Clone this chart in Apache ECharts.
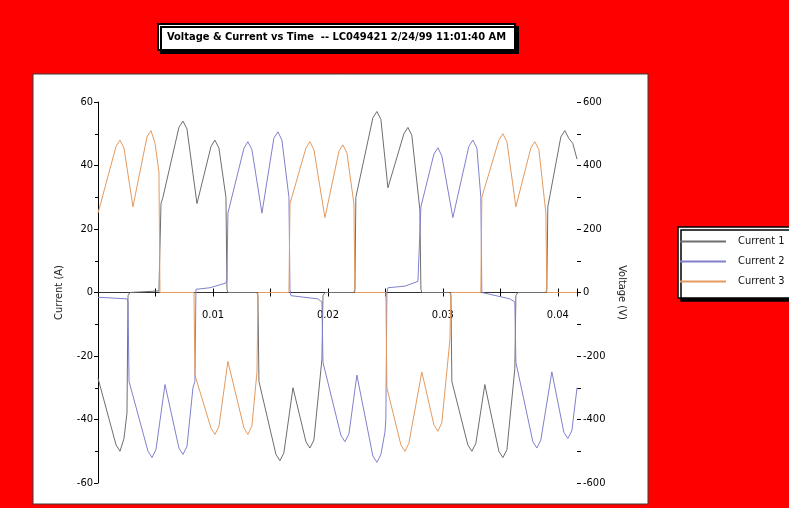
<!DOCTYPE html>
<html lang="en">
<head>
    <meta charset="utf-8"/>
    <title>Voltage & Current vs Time</title>
    <script type="text/javascript" src="https://cdn.jsdelivr.net/npm/echarts@6/dist/echarts.min.js"></script>
    <style>
        html, body {
            margin: 0;
            height: 100%;
            background: #FF0000;
        }

        #chart {
            width: 789px;
            height: 508px;
        }
    </style>
</head>
<body>
<div id="chart"></div>
<script>
    var FONT = "'Liberation Sans Narrow', 'DejaVu Sans Condensed', 'Liberation Sans', sans-serif";

    var titleText = 'Voltage & Current vs Time  -- LC049421 2/24/99 11:01:40 AM';
    var seriesNames = ['Current 1', 'Current 2', 'Current 3'];
    var seriesColors = ['#6e6e6e', '#8080cc', '#e49a5e'];

    // [time (s), current (A)] at the corners of each trace
    var current1 = [[0, -27], [0.00157, -48], [0.00191, -50], [0.00226, -46], [0.00252, -38], [0.00261, -1],
        [0.00278, 0], [0.00530, 0.5], [0.00539, 1], [0.00548, 28], [0.00565, 30], [0.00704, 52], [0.00739, 54],
        [0.00774, 51.5], [0.00861, 28], [0.00983, 46], [0.01017, 48], [0.01052, 45.5], [0.01113, 30],
        [0.01122, 1], [0.01130, 0], [0.01383, 0], [0.01391, -1], [0.01400, -28], [0.01548, -51], [0.01583, -53],
        [0.01617, -50.5], [0.01696, -30], [0.01809, -47], [0.01843, -49], [0.01878, -46.5], [0.01948, -21],
        [0.01957, -1], [0.01974, 0], [0.02226, 0], [0.02235, 1], [0.02243, 30], [0.02391, 55], [0.02426, 57],
        [0.02461, 54.5], [0.02522, 33], [0.02661, 50], [0.02696, 52], [0.02730, 49.5], [0.02800, 26],
        [0.02809, 1], [0.02817, 0], [0.03061, 0], [0.03070, -1], [0.03078, -28], [0.03217, -48], [0.03252, -50],
        [0.03287, -47.5], [0.03365, -29], [0.03487, -50], [0.03522, -52], [0.03557, -49.5], [0.03626, -24],
        [0.03635, -1], [0.03652, 0], [0.03896, 0], [0.03904, 1], [0.03913, 27], [0.04026, 49], [0.04061, 51],
        [0.04096, 48.5], [0.04130, 47], [0.04167, 42]];

    var current2 = [[0, -1.5], [0.00252, -2], [0.00261, -3], [0.00270, -28], [0.00435, -50], [0.00470, -52],
        [0.00504, -49.5], [0.00583, -29], [0.00704, -49], [0.00739, -51], [0.00774, -48.5], [0.00826, -30],
        [0.00843, -28], [0.00852, 1], [0.00974, 1.5], [0.01113, 3], [0.01122, 4], [0.01130, 25], [0.01270, 45.5],
        [0.01304, 47.5], [0.01339, 45], [0.01426, 25], [0.01530, 48.6], [0.01565, 50.6], [0.01600, 48],
        [0.01661, 30], [0.01670, 1], [0.01678, -1], [0.01913, -2], [0.01948, -3], [0.01957, -22], [0.02113, -45],
        [0.02148, -47], [0.02183, -44.5], [0.02252, -26], [0.02391, -51.5], [0.02426, -53.5], [0.02461, -51],
        [0.02496, -44], [0.02504, -40], [0.02513, 0], [0.02522, 1.5], [0.02670, 2], [0.02783, 3.5], [0.02800, 4],
        [0.02809, 27], [0.02922, 43.6], [0.02957, 45.6], [0.02991, 43], [0.03087, 23.6], [0.03226, 46],
        [0.03261, 48], [0.03296, 45.5], [0.03330, 30], [0.03339, 0], [0.03348, -0.5], [0.03583, -2], [0.03626, -3],
        [0.03635, -22], [0.03783, -47], [0.03817, -49], [0.03852, -46.5], [0.03948, -25], [0.04052, -44],
        [0.04087, -46], [0.04122, -43.5], [0.04167, -30]];

    var current3 = [[0, 25], [0.00157, 46], [0.00191, 48], [0.00226, 45.5], [0.00304, 27], [0.00426, 49],
        [0.00461, 51], [0.00496, 47], [0.00530, 38], [0.00539, 0], [0.00835, 0], [0.00843, -26], [0.00983, -42.7],
        [0.01017, -44.7], [0.01052, -42.2], [0.01130, -21.7], [0.01270, -42.7], [0.01304, -44.7], [0.01339, -42],
        [0.01383, -25], [0.01391, 0], [0.01661, 0], [0.01670, 28], [0.01809, 45.5], [0.01843, 47.5], [0.01878, 45],
        [0.01974, 23.6], [0.02096, 44.5], [0.02130, 46.5], [0.02165, 44], [0.02226, 28], [0.02235, 0], [0.02504, 0],
        [0.02513, -30], [0.02635, -48], [0.02670, -50], [0.02704, -47.5], [0.02817, -25], [0.02922, -41.7],
        [0.02957, -43.7], [0.02991, -41], [0.03061, -15], [0.03070, 0], [0.03330, 0], [0.03339, 30], [0.03487, 48],
        [0.03522, 50], [0.03557, 47.5], [0.03635, 27], [0.03765, 45.5], [0.03800, 47.5], [0.03835, 45],
        [0.03896, 25], [0.03904, 0], [0.04167, 0]];

    var timeMax = 0.041667;
    var seriesData = [current1, current2, current3];

    var chart = echarts.init(document.getElementById('chart'), null, {renderer: 'canvas'});

    // shared settings of the three copies of the time axis
    function timeAxis(extra) {
        var base = {
            type: 'value',
            min: 0,
            max: timeMax,
            interval: 0.005,
            position: 'bottom',
            axisLabel: {show: false},
            splitLine: {show: false}
        };
        return Object.assign(base, extra)
    }

    chart.setOption({
        backgroundColor: '#FF0000',
        animation: false,
        textStyle: {fontFamily: FONT},
        title: {
            text: titleText,
            left: 158,
            top: 24,
            padding: [8, 9, 7, 9],
            backgroundColor: '#FFFFFF',
            borderColor: '#000000',
            borderWidth: 2,
            shadowColor: '#000000',
            shadowOffsetX: 3,
            shadowOffsetY: 3,
            textStyle: {fontFamily: FONT, fontSize: 11, fontWeight: 'bold', color: '#000'}
        },
        legend: {
            data: seriesNames,
            orient: 'vertical',
            left: 678,
            top: 227,
            padding: [9, 14, 11, 2],
            itemWidth: 46,
            itemHeight: 2,
            itemGap: 9,
            icon: 'rect',
            backgroundColor: '#FFFFFF',
            borderColor: '#000000',
            borderWidth: 1.5,
            shadowColor: '#000000',
            shadowOffsetX: 3,
            shadowOffsetY: 3,
            textStyle: {fontFamily: FONT, fontSize: 11, color: '#111', padding: [0, 0, 0, 7]}
        },
        graphic: [{
            type: 'rect',
            z: -10,
            silent: true,
            shape: {x: 33, y: 74, width: 615, height: 430},
            style: {fill: '#FFFFFF', stroke: '#3a3a3a', lineWidth: 1}
        }],
        grid: {left: 98, right: 212, top: 102, bottom: 25},
        xAxis: [
            timeAxis({
                axisLine: {onZero: true, lineStyle: {color: '#333', width: 1}},
                axisTick: {length: 4, lineStyle: {color: '#000'}}
            }),
            // upward half of the crossing ticks
            timeAxis({
                axisLine: {show: false, onZero: true},
                axisTick: {inside: true, length: 4, lineStyle: {color: '#000'}}
            }),
            // labels sit just under the zero line
            timeAxis({
                offset: -190.5,
                axisLine: {show: false, onZero: false},
                axisTick: {show: false},
                axisLabel: {
                    show: true,
                    margin: 17,
                    fontSize: 11,
                    color: '#000',
                    showMaxLabel: false,
                    formatter: function (v) {
                        var h = v * 100;
                        return (v > 0 && Math.abs(h - Math.round(h)) < 1e-6) ? v.toFixed(2) : ''
                    }
                }
            })
        ],
        yAxis: [{
            type: 'value',
            min: -60,
            max: 60,
            interval: 20,
            name: 'Current (A)',
            nameLocation: 'middle',
            nameGap: 33,
            nameTextStyle: {fontFamily: FONT, fontSize: 11, color: '#222'},
            axisLine: {show: true, onZero: false, lineStyle: {color: '#000', width: 1}},
            axisTick: {show: true, length: 4, lineStyle: {color: '#000'}},
            minorTick: {show: true, splitNumber: 2, length: 3, lineStyle: {color: '#000'}},
            axisLabel: {margin: 5, fontSize: 11, color: '#000'},
            splitLine: {show: false}
        }, {
            type: 'value',
            min: -600,
            max: 600,
            interval: 200,
            position: 'right',
            name: 'Voltage (V)',
            nameLocation: 'middle',
            nameRotate: -90,
            nameGap: 38,
            nameTextStyle: {fontFamily: FONT, fontSize: 11, color: '#222'},
            axisLine: {show: false, onZero: false},
            axisTick: {show: true, length: 4, lineStyle: {color: '#000'}},
            minorTick: {show: true, splitNumber: 2, length: 4, lineStyle: {color: '#000'}},
            axisLabel: {margin: 6, fontSize: 11, color: '#000'},
            splitLine: {show: false}
        }],
        series: seriesNames.map(function (name, i) {
            return {
                name: name,
                type: 'line',
                xAxisIndex: 0,
                yAxisIndex: 0,
                data: seriesData[i],
                showSymbol: false,
                color: seriesColors[i],
                lineStyle: {width: 1, color: seriesColors[i]},
                itemStyle: {color: seriesColors[i]}
            }
        })
    });
</script>
</body>
</html>
